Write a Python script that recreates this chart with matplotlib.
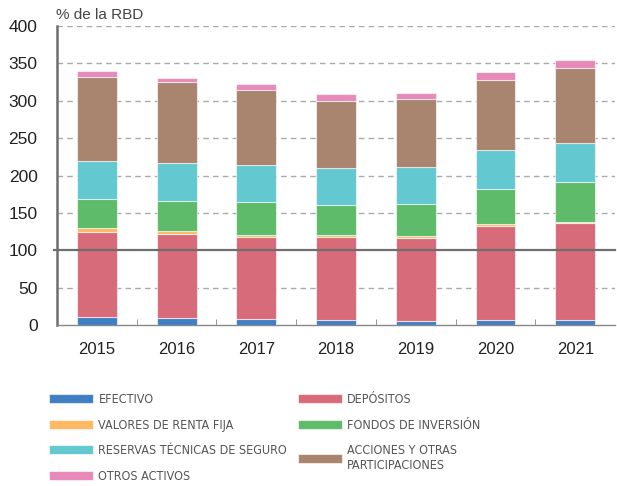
import matplotlib.pyplot as plt
import numpy as np

# Activos financieros de los hogares, % de la RBD
years = ['2015', '2016', '2017', '2018', '2019', '2020', '2021']
efectivo = [11, 10, 8, 7, 5.5, 7, 7]
depositos = [113, 112, 110, 111, 111.5, 126, 129]
renta_fija = [6, 4, 2.5, 2, 1.7, 2, 2]
fondos = [39, 40, 43.5, 41, 43.3, 47, 53]
reservas = [50, 51, 50, 49, 49.4, 52, 52]
acciones = [113, 108, 101, 90, 91.4, 94, 101]
otros = [8, 6, 7, 9, 7.6, 11, 10]

series = [
    ('EFECTIVO', efectivo, '#3f7fc4'),
    ('DEPÓSITOS', depositos, '#d86b7a'),
    ('VALORES DE RENTA FIJA', renta_fija, '#fdb863'),
    ('FONDOS DE INVERSIÓN', fondos, '#5dbb69'),
    ('RESERVAS TÉCNICAS DE SEGURO', reservas, '#63c8d0'),
    ('ACCIONES Y OTRAS\nPARTICIPACIONES', acciones, '#a9846f'),
    ('OTROS ACTIVOS', otros, '#e78ab9'),
]

plt.rcParams['font.family'] = ['Liberation Sans', 'DejaVu Sans']

fig = plt.figure(figsize=(6.17, 4.86), dpi=100)
ax = fig.add_axes([0.0924, 0.331, 0.9046, 0.6155])

x = np.arange(len(years))
bottom = np.zeros(len(years))
handles = {}
for name, vals, col in series:
    b = ax.bar(x, vals, 0.5, bottom=bottom, color=col,
               edgecolor=(1, 1, 1, 0.6), linewidth=0.8, zorder=3)
    handles[name] = b
    bottom += np.array(vals)

ax.set_xlim(-0.5, 6.5)
ax.set_ylim(0, 400)
ax.set_yticks(range(0, 401, 50))
ax.set_xticks(x)
ax.set_xticklabels(years)
ax.set_xticks(np.arange(0.5, 6.5, 1), minor=True)
ax.tick_params(axis='x', which='major', length=0, labelsize=12, pad=12)
ax.tick_params(axis='x', which='minor', length=4, direction='in', color='#888888')
ax.tick_params(axis='y', length=0, labelsize=12.5, pad=14)
for lab in ax.get_yticklabels() + ax.get_xticklabels():
    lab.set_color('#222222')

for v in range(50, 401, 50):
    if v != 100:
        ax.axhline(v, color='#aaaaaa', linestyle=(0, (4, 3)), linewidth=1, zorder=1)
ax.axhline(100, color='#6e6e6e', linewidth=1.6, zorder=4, xmin=-0.006, clip_on=False)

for s in ['top', 'right']:
    ax.spines[s].set_visible(False)
ax.spines['left'].set_color('#6e6e6e')
ax.spines['left'].set_linewidth(1.8)
ax.spines['bottom'].set_color('#888888')
ax.spines['bottom'].set_linewidth(1.0)

fig.text(0.0924 - 0.002, 0.955, '% de la RBD', fontsize=11, color='#444444', va='bottom')

# Leyenda en dos columnas
leg_font = {'family': ['DejaVu Sans'], 'stretch': 'condensed', 'size': 9}
col1 = ['EFECTIVO', 'VALORES DE RENTA FIJA', 'RESERVAS TÉCNICAS DE SEGURO', 'OTROS ACTIVOS']
col2 = ['DEPÓSITOS', 'FONDOS DE INVERSIÓN', 'ACCIONES Y OTRAS\nPARTICIPACIONES']
for names, xpos in [(col1, 49 / 617), (col2, 298 / 617)]:
    leg = fig.legend([handles[n] for n in names], names, loc='upper left',
                     bbox_to_anchor=(xpos, 1 - 393 / 486), frameon=False,
                     prop=leg_font, handlelength=3.5, handleheight=0.7,
                     handletextpad=0.45, labelspacing=1.0, borderpad=0,
                     borderaxespad=0, alignment='left')
    for t in leg.get_texts():
        t.set_color('#555555')

fig.savefig('out.png', dpi=100)
